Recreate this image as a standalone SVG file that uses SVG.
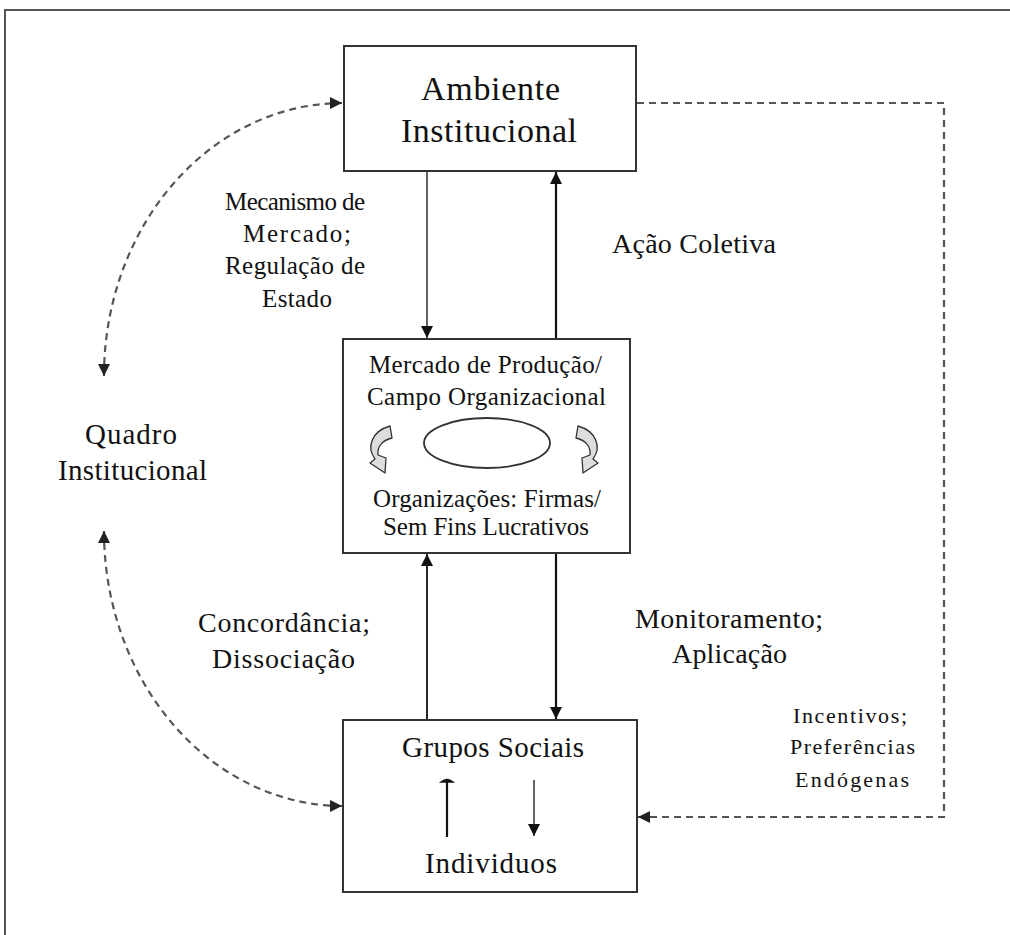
<svg xmlns="http://www.w3.org/2000/svg" width="1010" height="935" viewBox="0 0 1010 935">
<style>
text{font-family:"Liberation Serif","Times New Roman",serif;fill:#111}
.box{fill:#fff;stroke:#333;stroke-width:2}
.frame{fill:none;stroke:#555;stroke-width:2}
.solid{fill:none;stroke:#111}
.dash{fill:none;stroke:#555;stroke-width:2.2;stroke-dasharray:7 5}
.curl{fill:#ddd;stroke:#333;stroke-width:1.3;stroke-linejoin:round}
</style>
<defs>
<marker id="ah" viewBox="0 0 10 10" refX="10" refY="5" markerWidth="12" markerHeight="12" markerUnits="userSpaceOnUse" orient="auto-start-reverse">
<path d="M0,0 L10,5 L0,10 Z" fill="#111"/>
</marker>
<marker id="ahd" viewBox="0 0 10 10" refX="10" refY="5" markerWidth="12" markerHeight="12" markerUnits="userSpaceOnUse" orient="auto-start-reverse">
<path d="M0,0 L10,5 L0,10 Z" fill="#222"/>
</marker>
</defs>
<rect width="1010" height="935" fill="#fff"/>
<path class="frame" d="M5,935 V10 H1010"/>

<g id="connectors">
<line class="solid" x1="427" y1="171" x2="427" y2="338" stroke-width="1.3" marker-end="url(#ah)"/>
<line class="solid" x1="556" y1="339" x2="556" y2="172" stroke-width="2.2" marker-end="url(#ah)"/>
<line class="solid" x1="427" y1="720" x2="427" y2="554" stroke="#777" stroke-width="1.8" marker-end="url(#ah)"/>
<line class="solid" x1="556" y1="553" x2="556" y2="719" stroke-width="2.2" marker-end="url(#ah)"/>
<path class="dash" d="M104,376 A239,273 0 0 1 342,103" marker-start="url(#ahd)" marker-end="url(#ahd)"/>
<path class="dash" d="M104,531 A239,275 0 0 0 342,806" marker-start="url(#ahd)" marker-end="url(#ahd)"/>
<path class="dash" d="M637,103 H944 V817 H638" marker-end="url(#ahd)"/>
</g>

<g id="ambiente">
<rect class="box" x="344" y="46" width="292" height="125"/>
<text x="421" y="100" font-size="34" textLength="139">Ambiente</text>
<text x="401" y="142" font-size="34" textLength="176">Institucional</text>
</g>

<g id="mercado">
<rect class="box" x="343" y="339" width="287" height="214"/>
<text x="369" y="373" font-size="25" textLength="233">Mercado de Produção/</text>
<text x="367" y="405" font-size="25" textLength="239">Campo Organizacional</text>
<ellipse cx="487" cy="443" rx="63" ry="25" fill="none" stroke="#333" stroke-width="1.8"/>
<path class="curl" d="M390,426 L392,438 C383,440 377,446 378,455 L386,458 L385,473 L370,463 L375,459 C366,447 372,431 390,426 Z"/>
<path class="curl" d="M578,426 L576,438 C585,440 591,446 590,455 L582,458 L583,473 L598,463 L593,459 C602,447 596,431 578,426 Z"/>
<text x="373" y="507" font-size="25" textLength="228">Organizações: Firmas/</text>
<text x="383" y="535" font-size="25" textLength="206">Sem Fins Lucrativos</text>
</g>

<g id="grupos">
<rect class="box" x="343" y="720" width="294" height="172"/>
<text x="402" y="757" font-size="29" textLength="182">Grupos Sociais</text>
<text x="425" y="873" font-size="29" textLength="132">Individuos</text>
<line class="solid" x1="447" y1="837" x2="447" y2="781" stroke-width="2.2"/>
<path d="M441,782 Q447,777 453,782 Z" fill="#111" stroke="#111" stroke-width="1.5"/>
<line class="solid" x1="534" y1="780" x2="534" y2="836" stroke-width="1.3" marker-end="url(#ah)"/>
</g>

<g id="quadro">
<text x="85" y="444" font-size="29" textLength="92">Quadro</text>
<text x="58" y="480" font-size="29" textLength="149">Institucional</text>
</g>

<g id="labels">
<text x="225" y="210" font-size="25" textLength="140">Mecanismo de</text>
<text x="243" y="242" font-size="25" textLength="108">Mercado;</text>
<text x="225" y="274" font-size="25" textLength="140">Regulação de</text>
<text x="262" y="307" font-size="25" textLength="70">Estado</text>
<text x="612" y="253" font-size="28" textLength="164">Ação Coletiva</text>
<text x="198" y="632" font-size="28" textLength="172">Concordância;</text>
<text x="212" y="668" font-size="28" textLength="143">Dissociação</text>
<text x="635" y="628" font-size="28" textLength="188">Monitoramento;</text>
<text x="672" y="663" font-size="28" textLength="115">Aplicação</text>
<text x="793" y="723" font-size="22" textLength="114">Incentivos;</text>
<text x="790" y="754" font-size="22" textLength="125">Preferências</text>
<text x="795" y="787" font-size="22" textLength="114">Endógenas</text>
</g>
</svg>
